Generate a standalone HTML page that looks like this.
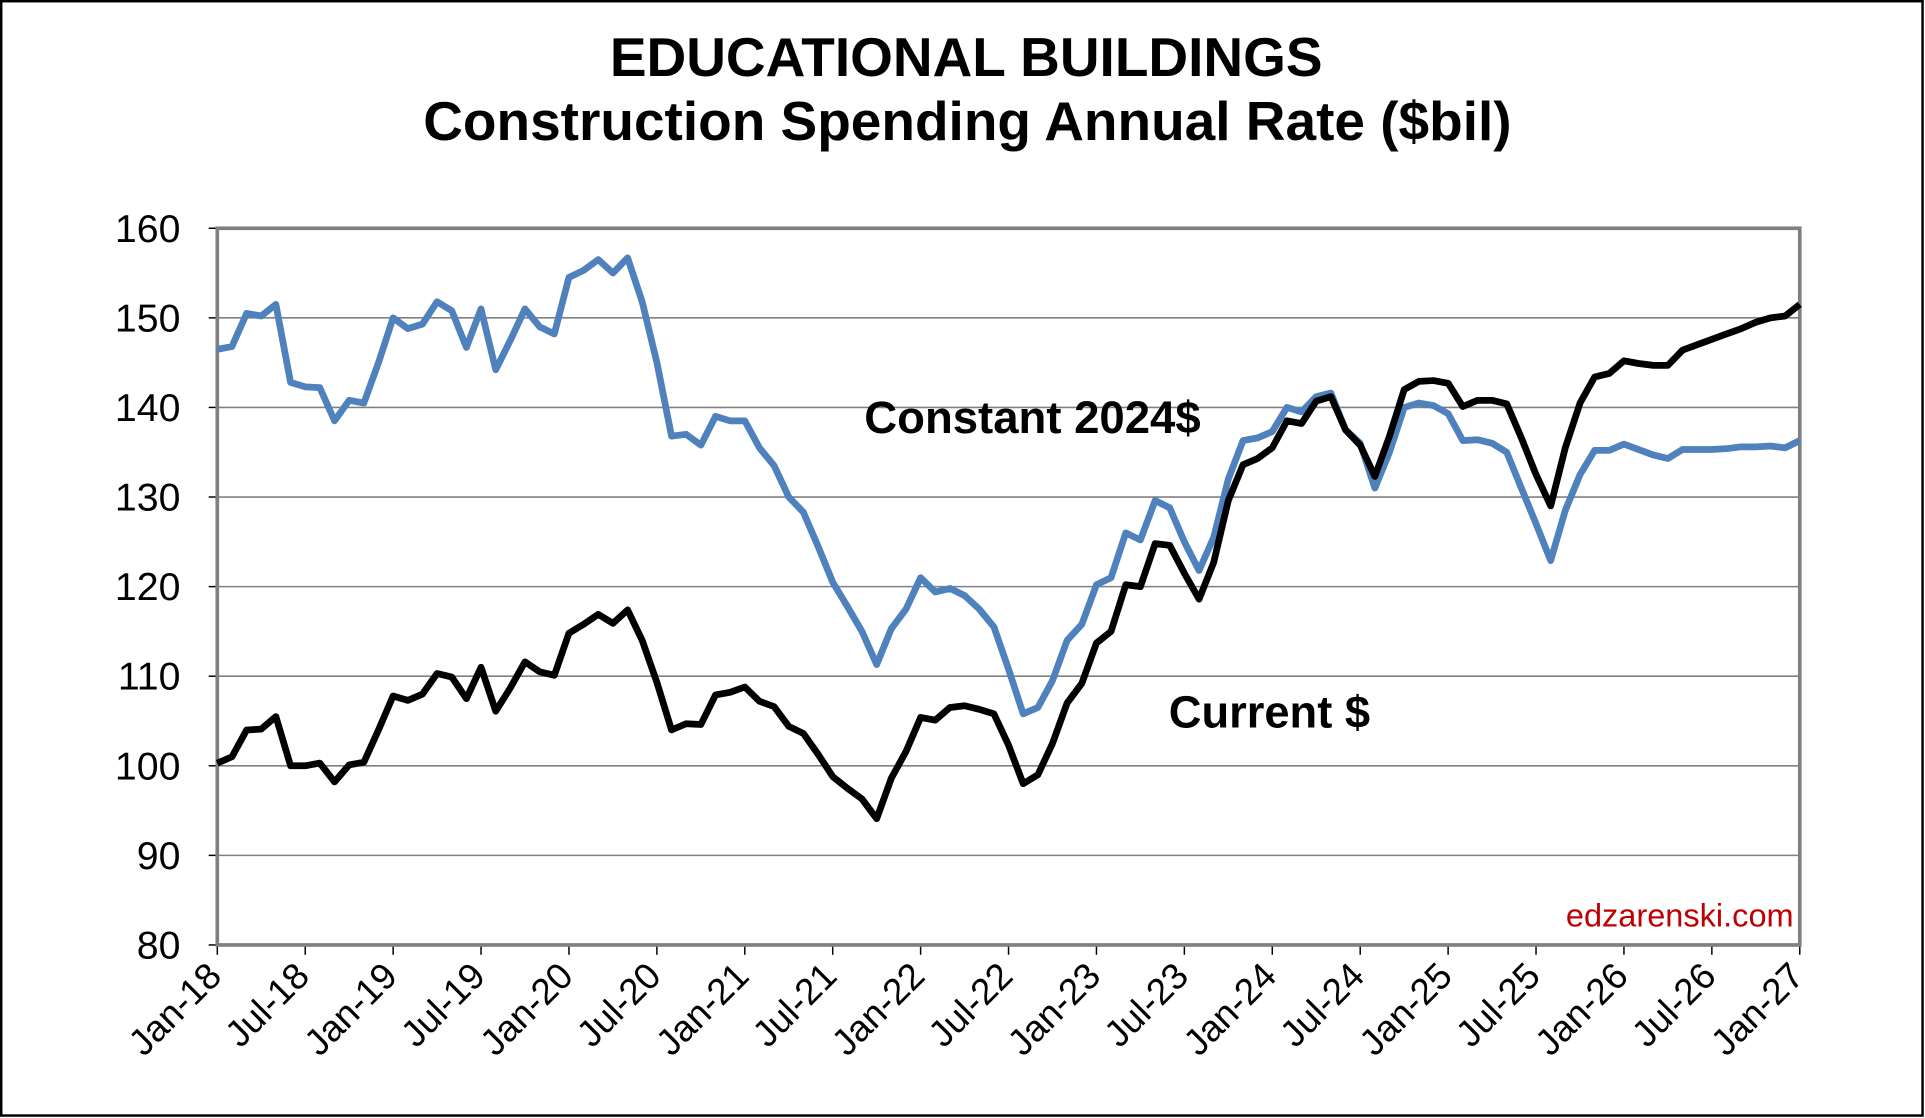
<!DOCTYPE html>
<html><head><meta charset="utf-8"><style>
html,body{margin:0;padding:0;background:#fff;}
svg{display:block;}
text{font-family:"Liberation Sans",Arial,sans-serif;}
</style></head><body>
<svg id="s" width="1925" height="1118" viewBox="0 0 1568 911" preserveAspectRatio="none" xmlns="http://www.w3.org/2000/svg">
<rect x="0" y="0" width="1568" height="911" fill="#fff"/>
<rect x="1" y="1" width="1565" height="908" fill="none" stroke="#000" stroke-width="2"/>
<text x="787" y="62" text-anchor="middle" font-size="44.8" font-weight="bold">EDUCATIONAL BUILDINGS</text>
<text x="788" y="114" text-anchor="middle" font-size="44.8" font-weight="bold">Construction Spending Annual Rate ($bil)</text>
<g id="grid"></g>
<g id="lines"></g>
<text x="704" y="353" font-size="37" font-weight="bold" textLength="274" lengthAdjust="spacingAndGlyphs">Constant 2024$</text>
<text x="952" y="593" font-size="37" font-weight="bold" textLength="164" lengthAdjust="spacingAndGlyphs">Current $</text>
<text x="1461" y="755" text-anchor="end" font-size="26.5" fill="#c00000">edzarenski.com</text>
</svg>
<script>
var L=177,R=1466,T=186,B=770;
function Y(v){return B-(v-80)*(B-T)/80;}
function X(i){return L+i*(R-L)/108;}
var g='';
for(var v=80;v<=160;v+=10){var y=Y(v);
 if(v>80&&v<160)g+='<line x1="'+L+'" y1="'+y+'" x2="'+R+'" y2="'+y+'" stroke="#808080" stroke-width="1.3"/>';
 g+='<line x1="170" y1="'+y+'" x2="'+L+'" y2="'+y+'" stroke="#000" stroke-width="1.2"/>';
 g+='<text x="147" y="'+(y+11)+'" text-anchor="end" font-size="32">'+v+'</text>';}
var labs=['Jan-18','Jul-18','Jan-19','Jul-19','Jan-20','Jul-20','Jan-21','Jul-21','Jan-22','Jul-22','Jan-23','Jul-23','Jan-24','Jul-24','Jan-25','Jul-25','Jan-26','Jul-26','Jan-27'];
for(var k=0;k<labs.length;k++){var x=X(k*6);
 g+='<line x1="'+x+'" y1="'+B+'" x2="'+x+'" y2="'+(B+8)+'" stroke="#000" stroke-width="1.2"/>';
 g+='<text transform="translate('+(x+5)+','+(B+27)+') rotate(-45)" text-anchor="end" font-size="30">'+labs[k]+'</text>';}
g+='<rect x="'+L+'" y="'+T+'" width="'+(R-L)+'" height="'+(B-T)+'" fill="none" stroke="#808080" stroke-width="3"/>';
document.getElementById('grid').innerHTML=g;
var blk=[100.3,101,104,104.1,105.5,100,100,100.3,98.2,100.1,100.4,104,107.8,107.3,108,110.3,109.9,107.5,111,106.1,108.7,111.6,110.5,110.1,114.8,115.8,116.9,115.9,117.4,114,109.3,104,104.7,104.6,107.9,108.2,108.8,107.2,106.6,104.4,103.6,101.3,98.8,97.5,96.3,94.1,98.6,101.6,105.4,105.1,106.5,106.7,106.3,105.8,102.3,98,99,102.5,107,109.2,113.7,115,120.2,120,124.8,124.6,121.5,118.6,122.7,129.6,133.6,134.3,135.5,138.5,138.2,140.7,141.2,137.5,135.8,132.3,136.8,142,142.9,143,142.7,140.1,140.8,140.8,140.4,136.6,132.5,129,135.5,140.5,143.4,143.8,145.2,144.9,144.7,144.7,146.4,147,147.6,148.2,148.8,149.5,150,150.2,151.5];
var blu=[146.5,146.8,150.5,150.2,151.5,142.8,142.3,142.2,138.5,140.8,140.5,145,150,148.8,149.3,151.8,150.8,146.7,151,144.2,147.5,151,149,148.2,154.5,155.3,156.5,155,156.7,151.8,145,136.8,137,135.8,139,138.5,138.5,135.5,133.5,130,128.3,124.5,120.5,117.8,115,111.3,115.3,117.5,121,119.4,119.8,119,117.5,115.5,110.8,105.8,106.5,109.5,114,115.8,120.2,121,126,125.2,129.6,128.8,125,121.8,125.5,132,136.3,136.6,137.3,140,139.5,141.2,141.6,137.5,136,131,135,140,140.5,140.2,139.3,136.3,136.4,136,135,131,127,122.9,128.5,132.5,135.2,135.2,135.9,135.3,134.7,134.3,135.3,135.3,135.3,135.4,135.6,135.6,135.7,135.5,136.3];
function pts(a){return a.map(function(v,i){return X(i).toFixed(1)+','+Y(v).toFixed(1);}).join(' ');}
document.getElementById('lines').innerHTML=
'<polyline points="'+pts(blu)+'" fill="none" stroke="#4f81bd" stroke-width="5.5" stroke-linejoin="round"/>'+
'<polyline points="'+pts(blk)+'" fill="none" stroke="#000" stroke-width="5.5" stroke-linejoin="round"/>';
</script>
</body></html>
